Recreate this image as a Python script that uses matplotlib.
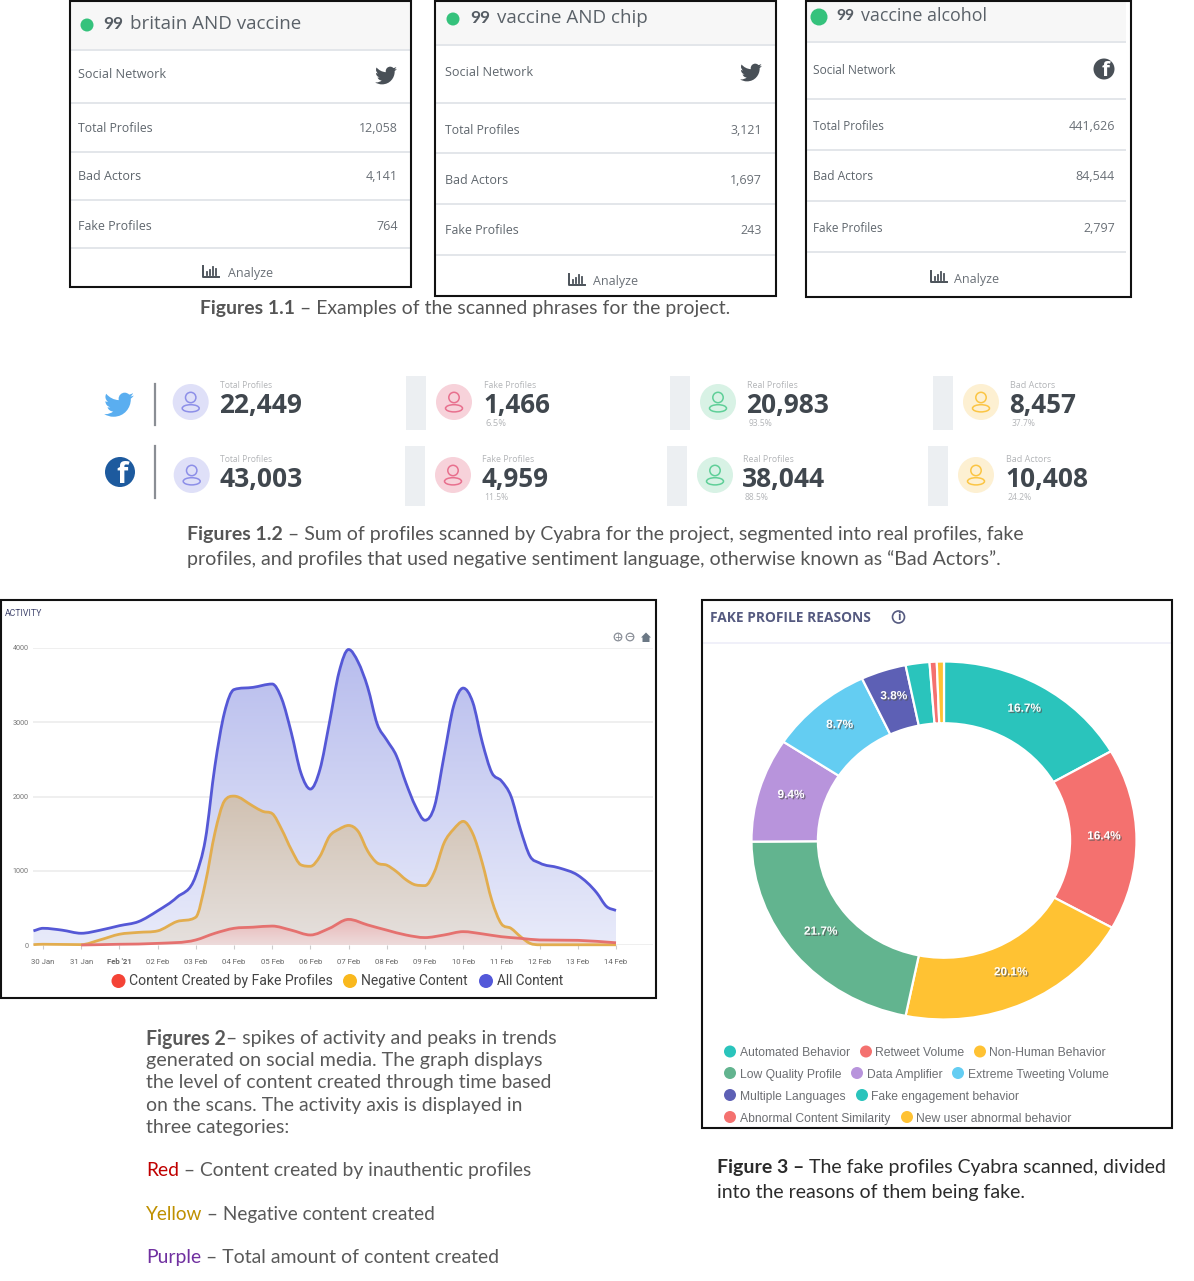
import numpy as np
import matplotlib
matplotlib.use("Agg")
import matplotlib.pyplot as plt
import matplotlib.patheffects as pe
from matplotlib import font_manager as fm
from matplotlib.patches import Rectangle, Circle, Ellipse, PathPatch
from matplotlib.path import Path

W, H = 1194, 1281

# ---------- DATA ----------
day_labels = ["30 Jan", "31 Jan", "Feb '21", "02 Feb", "03 Feb", "04 Feb", "05 Feb", "06 Feb",
              "07 Feb", "08 Feb", "09 Feb", "10 Feb", "11 Feb", "12 Feb", "13 Feb", "14 Feb"]
y_ticks = [0, 1000, 2000, 3000, 4000]

all_days = [-0.25, 0, 0.5, 1, 1.5, 2, 2.5, 3, 3.5, 4, 4.25, 4.5, 4.75, 5, 5.5, 6, 6.25, 6.5, 6.75, 7,
            7.25, 7.5, 7.75, 8, 8.25, 8.5, 8.75, 9, 9.25, 9.5, 9.75, 10, 10.25, 10.5, 10.75, 11, 11.25, 11.5,
            11.75, 12, 12.25, 12.5, 12.75, 13, 13.5, 14, 14.5, 14.75, 15]
all_content = [190, 225, 200, 158, 200, 260, 315, 460, 640, 935, 1420, 2410, 3130, 3440, 3470, 3515,
               3315, 2860, 2320, 2100, 2365, 3000, 3675, 3980, 3810, 3470, 2975, 2760, 2550, 2185, 1870, 1680,
               1870, 2550, 3220, 3460, 3270, 2730, 2320, 2210, 2005, 1555, 1195, 1105, 1040, 940, 700,
               520, 465]

neg_days = [-0.25, 0, 1, 1.5, 2, 2.5, 3, 3.5, 4, 4.25, 4.5, 4.75, 5, 5.5, 5.75, 6, 6.25, 6.5, 6.75, 7,
            7.25, 7.5, 7.75, 8, 8.25, 8.5, 8.75, 9, 9.25, 9.5, 9.75, 10, 10.25, 10.5, 10.75, 11, 11.25,
            11.5, 11.75, 12, 12.25, 12.5, 12.75, 13, 14, 15]
negative = [5, 10, 5, 70, 145, 170, 190, 315, 375, 835, 1510, 1940, 2005, 1870, 1800, 1770, 1555, 1285,
            1080, 1060, 1195, 1465, 1560, 1610, 1530, 1265, 1105, 1075, 990, 880, 810, 800, 990, 1375,
            1560, 1665, 1500, 1105, 600, 285, 225, 113, 22, 3, 3, 3]

fake_days = [1, 2, 3, 4, 4.5, 5, 5.5, 6, 6.5, 7, 7.5, 8, 8.5, 9, 9.5, 10, 10.5, 11, 11.5, 12, 12.5,
             13, 14, 15]
fake_content = [0, 10, 22, 68, 158, 225, 240, 255, 200, 135, 225, 345, 270, 200, 135, 100, 135, 180,
                150, 112, 90, 68, 63, 30]

reason_names = ["Automated Behavior", "Retweet Volume", "Non-Human Behavior", "Low Quality Profile",
                "Data Amplifier", "Extreme Tweeting Volume", "Multiple Languages",
                "Fake engagement behavior", "Abnormal Content Similarity", "New user abnormal behavior"]
reason_share = [16.7, 16.4, 20.1, 21.7, 9.4, 8.7, 3.8, 2.0, 0.6, 0.6]
reason_colors = ["#2ac4bc", "#f4716f", "#ffc233", "#62b48f", "#b894dc", "#64cdf2", "#5d60b5",
                 "#2ac4bc", "#f4716f", "#ffc233"]

card_titles = ["britain AND vaccine", "vaccine AND chip", "vaccine alcohol"]
card_rows = ["Total Profiles", "Bad Actors", "Fake Profiles"]
card_values = [["12,058", "4,141", "764"], ["3,121", "1,697", "243"], ["441,626", "84,544", "2,797"]]

stat_labels = ["Total Profiles", "Fake Profiles", "Real Profiles", "Bad Actors"]
stat_twitter = ["22,449", "1,466", "20,983", "8,457"]
stat_facebook = ["43,003", "4,959", "38,044", "10,408"]
pct_twitter = ["", "6.5%", "93.5%", "37.7%"]
pct_facebook = ["", "11.5%", "88.5%", "24.2%"]

# ---------- HELPERS ----------
installed = {f.name for f in fm.fontManager.ttflist}
NARROW = "Liberation Sans Narrow" if "Liberation Sans Narrow" in installed else "Roboto"
CAP = "Lato"
UI = "Open Sans"

fig = plt.figure(figsize=(W / 100, H / 100), dpi=100, facecolor="white")
bg = fig.add_axes([0, 0, 1, 1], zorder=0)
bg.set_xlim(0, W)
bg.set_ylim(H, 0)
bg.axis("off")
renderer = fig.canvas.get_renderer()


def txt(s, x, y, px, color="#555555", ax_h="left", family=UI, weight="normal", width=None, z=5):
    t = bg.text(x, y + 1, s, fontsize=px * 0.72, color=color, ha=ax_h, va="center", family=family,
                weight=weight, zorder=z)
    if width:
        w = t.get_window_extent(renderer).width
        t.set_fontsize(t.get_fontsize() * width / w)
    return t


def rich(parts, x, y, x_end, family=CAP, base=20):
    """parts: (string, color, weight), fitted to run from x to x_end."""
    ts = [bg.text(x, y, s, fontsize=base * 0.72, color=c, weight=w, family=family, va="center_baseline",
                  ha="left", zorder=5) for s, c, w in parts]
    total = sum(t.get_window_extent(renderer).width for t in ts)
    k = (x_end - x) / total
    cx = x
    for t in ts:
        t.set_fontsize(t.get_fontsize() * k)
        t.set_x(cx)
        cx += t.get_window_extent(renderer).width


def rect(x0, y0, x1, y1, fc="none", ec="none", lw=0, z=1):
    bg.add_patch(Rectangle((x0, y0), x1 - x0, y1 - y0, facecolor=fc, edgecolor=ec, linewidth=lw, zorder=z))


def hline(x0, x1, y, color="#e3e6ea", lw=1.4, z=2):
    bg.plot([x0, x1], [y, y], color=color, lw=lw, zorder=z, solid_capstyle="butt")


def circ(x, y, r, fc, ec="none", lw=0, z=3):
    bg.add_patch(Circle((x, y), r, facecolor=fc, edgecolor=ec, linewidth=lw, zorder=z))


BIRD = np.array([[22.46, 6], [21.69, 6.35], [20.86, 6.58], [20, 6.69], [20.88, 6.16], [21.56, 5.32], [21.88, 4.31],
                 [21.05, 4.81], [20.13, 5.16], [19.16, 5.36], [18.37, 4.5], [17.26, 4], [16, 4], [13.65, 4],
                 [11.73, 5.92], [11.73, 8.29], [11.73, 8.63], [11.77, 8.96], [11.84, 9.27], [8.28, 9.09],
                 [5.11, 7.38], [3, 4.79], [2.63, 5.42], [2.42, 6.16], [2.42, 6.94], [2.42, 8.43], [3.17, 9.75],
                 [4.33, 10.5], [3.62, 10.5], [2.96, 10.3], [2.38, 10], [2.38, 10], [2.38, 10], [2.38, 10.03],
                 [2.38, 12.11], [3.86, 13.85], [5.82, 14.24], [5.46, 14.34], [5.08, 14.39], [4.69, 14.39],
                 [4.42, 14.39], [4.15, 14.36], [3.89, 14.31], [4.43, 16], [6, 17.26], [7.89, 17.29], [6.43, 18.45],
                 [4.58, 19.13], [2.56, 19.13], [2.22, 19.13], [1.88, 19.11], [1.54, 19.07], [3.44, 20.29],
                 [5.7, 21], [8.12, 21], [16, 21], [20.33, 14.46], [20.33, 8.79], [20.33, 8.6], [20.33, 8.42],
                 [20.32, 8.23], [21.16, 7.63], [21.88, 6.87], [22.46, 6]])


def bird(cx, cy, size, color):
    v = (BIRD - 12) * size / 24 + [cx, cy]
    codes = [Path.MOVETO] + [Path.CURVE4] * (len(v) - 1)
    bg.add_patch(PathPatch(Path(v, codes), facecolor=color, edgecolor="none", zorder=4))


def fb(cx, cy, r, color):
    circ(cx, cy, r, color, z=4)
    bg.text(cx + r * 0.12, cy + r * 0.22, "f", color="white", fontsize=r * 1.95 * 0.72, family="Open Sans",
            weight="bold", ha="center", va="center", zorder=5)


def person(cx, cy, pale, line):
    circ(cx, cy, 18, pale, z=2)
    circ(cx, cy - 4.5, 5.2, "none", ec=line, lw=1.1, z=3)
    bg.add_patch(Ellipse((cx, cy + 6.3), 17, 7.2, facecolor="none", edgecolor=line, linewidth=1.1, zorder=3))


def analyze_icon(cx, cy, color="#4b5259"):
    bg.plot([cx - 8, cx - 8, cx + 8], [cy - 6, cy + 5, cy + 5], color=color, lw=1.4, zorder=4)
    for dx, h in [(-4, 3), (-1, 5), (2, 8), (5, 6)]:
        bg.plot([cx + dx, cx + dx], [cy + 3, cy + 3 - h], color=color, lw=1.3, zorder=4)


def tangents(x, y):
    """Central slopes, flattened at turning points and limited so the curve does not overshoot."""
    d = np.diff(y) / np.diff(x)
    m = np.gradient(y, x)
    for i in range(1, len(x) - 1):
        if d[i - 1] * d[i] <= 0:
            m[i] = 0.0
        else:
            m[i] = np.sign(d[i]) * min(abs(m[i]), 3 * min(abs(d[i - 1]), abs(d[i])))
    return m


def smooth_path(x, y, close=False):
    x = np.asarray(x, float)
    y = np.asarray(y, float)
    m = tangents(x, y)
    verts = [(x[0], y[0])]
    codes = [Path.MOVETO]
    for i in range(len(x) - 1):
        h = x[i + 1] - x[i]
        verts += [(x[i] + h / 3, y[i] + m[i] * h / 3), (x[i + 1] - h / 3, y[i + 1] - m[i + 1] * h / 3),
                  (x[i + 1], y[i + 1])]
        codes += [Path.CURVE4] * 3
    if close:
        verts += [(x[-1], 0), (x[0], 0), (x[0], y[0])]
        codes += [Path.LINETO] * 3
    return Path(verts, codes)


# ---------- TOP CARDS ----------
cards = [
    dict(box=(70, 1, 411, 287), seps=(50, 103, 152, 200, 248), rows=(74, 128, 176, 225, 273), lx=78, rx=398,
         sep_end=411, dot=(87, 25, 6.5), q=103, title=(130, 301, 23), ana=(211, 228, 273)),
    dict(box=(435, 1, 776, 296), seps=(45, 103, 153, 204, 255), rows=(71, 129, 179, 230, 281), lx=445, rx=762,
         sep_end=776, dot=(453, 19, 6.5), q=470, title=(497, 648, 17), ana=(577, 593, 281)),
    dict(box=(806, 1, 1131, 297), seps=(42, 99, 150, 201, 252), rows=(69, 126, 176, 227, 278), lx=813, rx=1115,
         sep_end=1126, dot=(819, 17, 8.5), q=836, title=(861, 987, 15), ana=(939, 954, 278)),
]
card_w = [(88, 75, 79), (88, 75, 79), (84, 72, 78)]
for i, c in enumerate(cards):
    x0, y0, x1, y1 = c["box"]
    rect(x0, y0, c["sep_end"], c["seps"][0], fc="#f7f7f7")
    rect(x0, y0, x1, y1, ec="#111111", lw=1.5, z=6)
    for s in c["seps"]:
        hline(x0, c["sep_end"], s)
    circ(c["dot"][0], c["dot"][1], c["dot"][2], "#35c27c")
    tx0, tx1, ty = c["title"]
    txt("99", c["q"], ty, 19, color="#565d64", weight="bold", family=CAP, width=tx0 - c["q"] - 7)
    txt(card_titles[i], tx0, ty, 20, color="#5a6168", width=tx1 - tx0)
    txt("Social Network", c["lx"], c["rows"][0], 12.5, color="#5f666d", width=card_w[i][0])
    for j, lab in enumerate(card_rows):
        ry = c["rows"][j + 1]
        txt(lab, c["lx"], ry, 12.5, color="#5f666d", width=card_w[i][0] * (0.85 if j == 0 else 0.72 if j == 1 else 0.84))
        txt(card_values[i][j], c["rx"], ry, 12.5, color="#6a7077", ax_h="right")
    ax_, atx, ay = c["ana"]
    analyze_icon(ax_, ay - 1)
    txt("Analyze", atx, ay, 12.5, color="#6a7077", width=45)
bird(386, 75, 25, "#495057")
bird(751, 72, 25, "#495057")
fb(1104, 69, 10.5, "#495057")

rich([("Figures 1.1", "#555555", "bold"), (" – Examples of the scanned phrases for the project.", "#555555", "normal")],
     200, 307, 731)

# ---------- STAT ROWS ----------
pale = ["#dfe0f8", "#f7d2da", "#d8f2e5", "#fdf0d2"]
line = ["#8d8fe8", "#e8708e", "#5fcf98", "#fbc544"]
row_layout = [
    dict(y=402, cx=(190.7, 454, 718, 981), tx=(220, 484, 747, 1010), bars=(406, 670, 933), by=(376, 430),
         vals=stat_twitter, pcts=pct_twitter),
    dict(y=475, cx=(191.7, 453, 715, 976), tx=(220, 482, 743, 1006), bars=(405, 667, 928), by=(446, 506),
         vals=stat_facebook, pcts=pct_facebook),
]
for r in row_layout:
    for b in r["bars"]:
        rect(b, r["by"][0], b + 20, r["by"][1], fc="#eceff2")
    for k in range(4):
        person(r["cx"][k], r["y"], pale[k], line[k])
        txt(stat_labels[k], r["tx"][k], r["y"] - 17, 9, color="#b3b5b8", width=52 if k < 2 else (50 if k == 2 else 45))
        num_w = {6: 83, 5: 67}[len(r["vals"][k])]
        txt(r["vals"][k], r["tx"][k] - 1, r["y"] + 3, 27, color="#40474e", weight="bold", width=num_w)
        if r["pcts"][k]:
            txt(r["pcts"][k], r["tx"][k] + 2, r["y"] + 21, 10, color="#b3b5b8", width=24 if len(r["pcts"][k]) > 4 else 21)
bg.plot([155, 155], [384, 425], color="#8a8e94", lw=1.6, zorder=3)
bg.plot([154.5, 154.5], [446, 498], color="#8a8e94", lw=1.6, zorder=3)
bird(119, 404, 34, "#5aaef0")
fb(120, 472, 15, "#1d5a9e")

rich([("Figures 1.2", "#555555", "bold"),
      (" – Sum of profiles scanned by Cyabra for the project, segmented into real profiles, fake", "#555555", "normal")],
     187, 533, 1021)
rich([("profiles, and profiles that used negative sentiment language, otherwise known as “Bad Actors”.", "#555555", "normal")],
     187, 558, 999)

# ---------- ACTIVITY CHART ----------
rect(1, 600, 656, 998, ec="#111111", lw=1.5, z=6)
txt("ACTIVITY", 5, 612, 9, color="#41466e", family=NARROW, width=37)
for cx, sign in [(618, "+"), (630, "−")]:
    circ(cx, 637, 3.8, "white", ec="#8a8f98", lw=0.9)
    bg.text(cx, 637, sign, fontsize=6, color="#777c85", ha="center", va="center", zorder=5)
bg.add_patch(plt.Polygon([(641, 637.5), (646, 632.5), (651, 637.5), (649.5, 637.5), (649.5, 642), (642.5, 642), (642.5, 637.5)],
                         facecolor="#6b7885", edgecolor="none", zorder=4))

X0, DX = 43.0, 38.2
left_d, right_d = (33 - X0) / DX, (653 - X0) / DX
ax = fig.add_axes([33 / W, 1 - 945 / H, 620 / W, 297 / H], zorder=2)
ax.patch.set_alpha(0)
for s in ax.spines.values():
    s.set_visible(False)
ax.set_xticks(range(len(day_labels)))
ax.set_xticklabels(day_labels, fontsize=5.6, color="#666666", family=NARROW, va="baseline")
ax.get_xticklabels()[2].set_fontweight("bold")
ax.set_yticks(y_ticks)
ax.set_yticklabels([str(v) for v in y_ticks], fontsize=5.2, color="#777777", family=NARROW)
ax.tick_params(axis="x", length=3, color="#cccccc", pad=10.5, width=0.8)
ax.tick_params(axis="y", length=0, pad=3)
ax.grid(axis="y", color="#eeeeee", lw=1.3)
ax.set_axisbelow(True)

series = [
    (all_days, all_content, "#5558d6", (0.72, 0.74, 0.93), (0.91, 0.92, 0.98), 3),
    (neg_days, negative, "#e2ad4f", (0.82, 0.76, 0.70), (0.90, 0.88, 0.87), 4),
    (fake_days, fake_content, "#e5716f", (0.91, 0.72, 0.72), (0.93, 0.86, 0.86), 5),
]
for xs, ys, col, top, bot, z in series:
    vmax = max(ys)
    grad = np.linspace(0, 1, 128)[:, None, None] * (np.array(top) - np.array(bot)) + np.array(bot)
    im = ax.imshow(grad, extent=(left_d, right_d, 0, vmax), origin="lower", aspect="auto", zorder=z)
    im.set_clip_path(PathPatch(smooth_path(xs, ys, close=True), transform=ax.transData))
    ax.add_patch(PathPatch(smooth_path(xs, ys), facecolor="none", edgecolor=col, linewidth=2.0, zorder=z + 3,
                           clip_on=False))
ax.set_xlim(left_d, right_d)
ax.set_ylim(0, 4000)

for cx, col, label, x0, x1 in [(118.5, "#f44336", "Content Created by Fake Profiles", 129, 333),
                               (350, "#f9b81d", "Negative Content", 361, 468),
                               (486, "#5358d9", "All Content", 497, 564)]:
    circ(cx, 981, 7, col)
    txt(label, x0, 980, 17, color="#444444", family=NARROW, width=x1 - x0)

# ---------- DONUT ----------
rect(702, 600, 1172, 1128, ec="#111111", lw=1.5, z=6)
txt("FAKE PROFILE REASONS", 710, 617, 13, color="#555a80", weight="bold", width=161)
circ(898.5, 617, 6, "white", ec="#555a80", lw=1.2)
bg.text(898.5, 617, "i", fontsize=7, weight="bold", color="#555a80", ha="center", va="center", zorder=5)
hline(703, 1171, 643, color="#eeeef8", lw=1.2)

axd = fig.add_axes([751.5 / W, 1 - 1019.5 / H, 385 / W, 358 / H], zorder=2)
wedges, _, autos = axd.pie(
    reason_share, colors=reason_colors, startangle=90, counterclock=False, normalize=True,
    wedgeprops=dict(width=0.345, edgecolor="white", linewidth=1.6), pctdistance=0.83,
    autopct=lambda p: f"{p:.1f}%" if p >= 3 else "",
    textprops=dict(color="white", fontsize=8.5, weight="bold", family="Liberation Sans"))
for a in autos:
    px_, py_ = a.get_position()
    a.set_position((px_, py_ + 0.018))
    a.set_path_effects([pe.withSimplePatchShadow(offset=(1, -1), shadow_rgbFace="#555555", alpha=0.7)])
axd.set_aspect("auto")
axd.set_xlim(-1.0, 1.0)
axd.set_ylim(-1.0, 1.0)

legend_layout = [(730, 740, 850, 1052.5), (866, 875, 964, 1052.5), (980, 989, 1106, 1052.5),
                 (730, 740, 841, 1074), (857, 867, 943, 1074), (958, 968, 1109, 1074),
                 (730, 740, 845, 1096), (862, 871, 1019, 1096),
                 (730, 740, 890, 1118), (907, 916, 1071, 1118)]
for name, col, (dx, t0, t1, ly) in zip(reason_names, reason_colors, legend_layout):
    circ(dx, ly - 1, 6, col)
    txt(name, t0, ly, 12, color="#6d6f73", family="Liberation Sans", width=t1 - t0)

# ---------- BOTTOM TEXT ----------
grey = "#595959"
rich([("Figures 2", grey, "bold"), ("– spikes of activity and peaks in trends", grey, "normal")], 146, 1037, 556)
rich([("generated on social media. The graph displays", grey, "normal")], 146, 1059, 543)
rich([("the level of content created through time based", grey, "normal")], 146, 1081, 552)
rich([("on the scans. The activity axis is displayed in", grey, "normal")], 146, 1104, 523)
rich([("three categories:", grey, "normal")], 146, 1126, 289)
rich([("Red", "#c00000", "normal"), (" – Content created by inauthentic profiles", grey, "normal")], 146, 1169, 532)
rich([("Yellow", "#bf9000", "normal"), (" – Negative content created", grey, "normal")], 146, 1213, 436)
rich([("Purple", "#7030a0", "normal"), (" – Total amount of content created", grey, "normal")], 146, 1256, 499)

dark = "#2b2b2b"
rich([("Figure 3 – ", dark, "bold"), ("The fake profiles Cyabra scanned, divided", dark, "normal")], 717, 1166, 1165)
rich([("into the reasons of them being fake.", dark, "normal")], 717, 1191, 1024)

fig.savefig("out.png", dpi=100, facecolor="white")
